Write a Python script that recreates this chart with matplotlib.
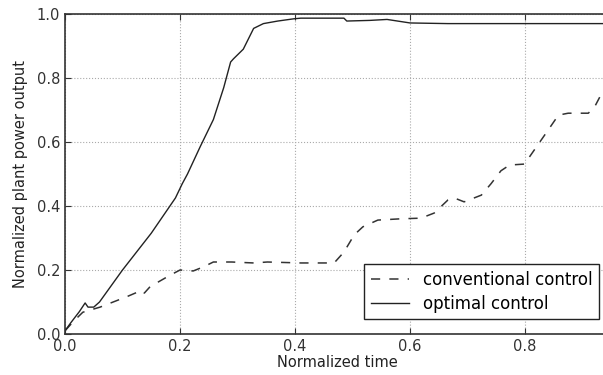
import numpy as np
import matplotlib
matplotlib.use('Agg')
import matplotlib.pyplot as plt

# optimal control (solid)
t_opt = [0.0, 0.01, 0.025, 0.035, 0.04, 0.05, 0.06, 0.1, 0.15, 0.192, 0.204, 0.213,
         0.235, 0.258, 0.276, 0.288, 0.293, 0.31, 0.328, 0.345, 0.37, 0.398, 0.41,
         0.485, 0.49, 0.53, 0.56, 0.60, 0.666, 0.8, 0.94]
p_opt = [0.01, 0.035, 0.07, 0.097, 0.084, 0.084, 0.1, 0.2, 0.315, 0.425, 0.47, 0.50,
         0.585, 0.67, 0.77, 0.85, 0.86, 0.89, 0.955, 0.97, 0.978, 0.985, 0.987,
         0.987, 0.978, 0.98, 0.983, 0.972, 0.97, 0.97, 0.97]

# conventional control (dashed)
t_conv = [0.0, 0.015, 0.031, 0.061, 0.108, 0.125, 0.131, 0.138, 0.148, 0.183, 0.2,
          0.223, 0.241, 0.258, 0.29, 0.328, 0.352, 0.41, 0.468, 0.485, 0.503, 0.518,
          0.544, 0.584, 0.619, 0.642, 0.666, 0.677, 0.694, 0.724, 0.741, 0.758,
          0.773, 0.799, 0.816, 0.84, 0.858, 0.875, 0.91, 0.921, 0.94]
p_conv = [0.01, 0.04, 0.068, 0.084, 0.117, 0.13, 0.137, 0.128, 0.148, 0.184, 0.2,
          0.197, 0.21, 0.225, 0.225, 0.222, 0.225, 0.222, 0.222, 0.256, 0.31, 0.335,
          0.356, 0.36, 0.362, 0.378, 0.419, 0.425, 0.413, 0.434, 0.47, 0.51,
          0.528, 0.531, 0.575, 0.637, 0.684, 0.69, 0.69, 0.71, 0.775]

fig = plt.figure(figsize=(6.03, 3.75), dpi=100)
ax = fig.add_axes([65 / 603, 41 / 375, 1 - 65 / 603 + 0.01, 320 / 375])
ax.plot(t_conv, p_conv, ls='--', c='#333333', lw=1.1, dashes=(6, 6), label='conventional control')
ax.plot(t_opt, p_opt, c='#222222', lw=1.0, label='optimal control')
ax.set_xlim(0, 0.946)
ax.set_ylim(0, 1.0)
ax.set_xticks([0.0, 0.2, 0.4, 0.6, 0.8])
ax.set_yticks([0.0, 0.2, 0.4, 0.6, 0.8, 1.0])
ax.tick_params(direction='in', top=True, labelsize=10.5, colors='#333333', length=4)
ax.grid(True, ls=':', color='#aaaaaa', lw=0.8)
ax.spines['right'].set_visible(False)
for s in ['left', 'bottom', 'top']:
    ax.spines[s].set_color('#333333')
    ax.spines[s].set_linewidth(1.2)
ax.set_xlabel('Normalized time', fontsize=10.5, color='#222222', labelpad=1)
ax.set_ylabel('Normalized plant power output', fontsize=10.5, color='#222222', labelpad=6)
ax.legend(loc='lower left', bbox_to_anchor=(0.535, 0.02), fontsize=12, fancybox=False,
          edgecolor='#222222', framealpha=1, handlelength=2.3, borderpad=0.4,
          labelspacing=0.35)
fig.savefig('out.png', dpi=100)
